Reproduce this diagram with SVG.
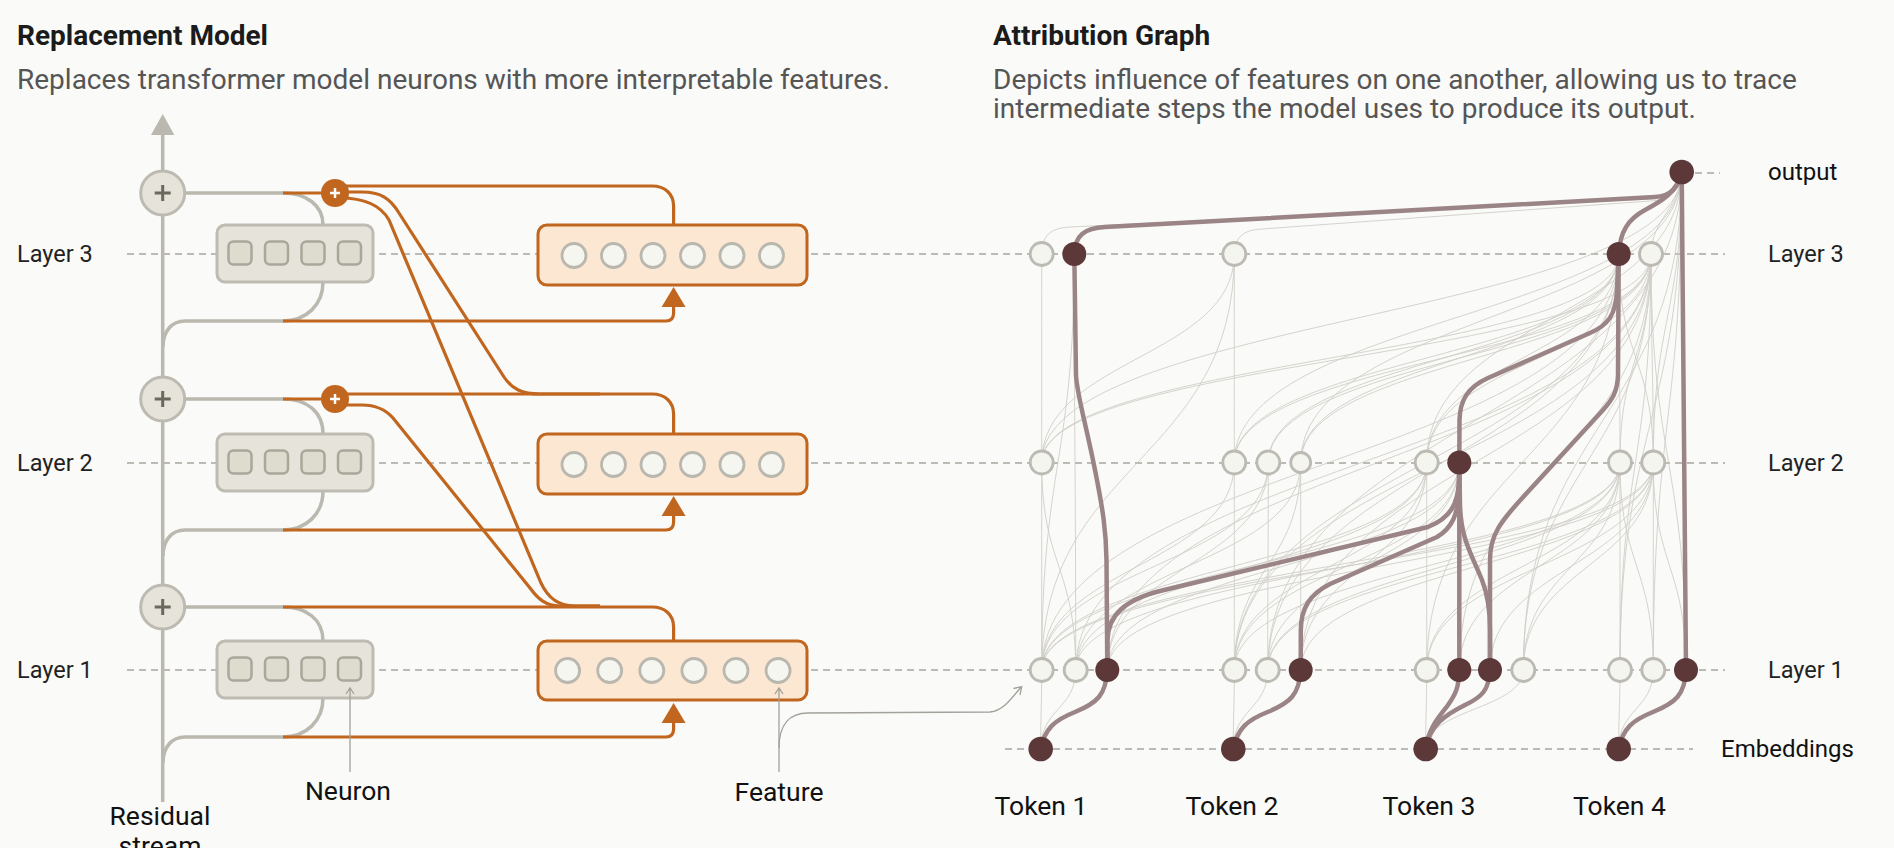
<svg xmlns="http://www.w3.org/2000/svg" width="1894" height="848" viewBox="0 0 1894 848">
<style>
text{font-family:Roboto,'Liberation Sans',Arial,sans-serif}
.title{font-size:28px;font-weight:700;fill:#1b1b1b}
.sub{font-size:28px;fill:#555}
.lbl{font-size:23.5px;fill:#222}
.blk{font-size:24px;fill:#111}
.big{font-size:26.5px;fill:#111}
.dash{stroke:#bcbab3;stroke-width:2;stroke-dasharray:7 5;fill:none}
.g{stroke:#bab8af;stroke-width:3.5;fill:none}
.o{stroke:#c0661f;stroke-width:3.2;fill:none}
.nbox{fill:#e6e4da;stroke:#bdbbb2;stroke-width:3}
.nsq{fill:#dedbcf;stroke:#a9a79a;stroke-width:2.5}
.fbox{fill:#fbe7d2;stroke:#c0661f;stroke-width:3}
.fc{fill:#f6f6f1;stroke:#b9b7ae;stroke-width:2.8}
.pc{fill:#e6e4da;stroke:#bcbab1;stroke-width:3}
.ps{stroke:#6b695c;stroke-width:3;fill:none}
.op{fill:#c0661f}
.ops{stroke:#fff;stroke-width:2.5;fill:none}
.thin{stroke:#c9c7c0;stroke-width:0.9;fill:none;opacity:.85}
.thick{stroke:#9b8485;stroke-width:4.5;fill:none;stroke-linecap:round;stroke-linejoin:round}
.gn{fill:#f5f5f0;stroke:#bcbab2;stroke-width:2.8}
.dn{fill:#5c3838}
.ptr{stroke:#a3a19a;stroke-width:1.3;fill:none}
</style>
<rect width="1894" height="848" fill="#fafaf8"/>

<g id="headings">
<text class="title" x="17" y="45">Replacement Model</text>
<text class="sub" x="17" y="89">Replaces transformer model neurons with more interpretable features.</text>
<text class="title" x="993" y="45">Attribution Graph</text>
<text class="sub" x="993" y="89">Depicts influence of features on one another, allowing us to trace</text>
<text class="sub" x="993" y="118">intermediate steps the model uses to produce its output.</text>
</g>

<g id="layer-lines">
<path class="dash" d="M127 254H1725M127 463H1725M127 670H1725M1005 749H1693M1695 173H1720"/>
</g>

<g id="connectors">
<!-- residual stream -->
<path class="g" d="M162.7 802V133" stroke-width="4"/>
<polygon points="151,135 174.4,135 162.7,114" fill="#bab8af"/>
<!-- gray branches -->
<path class="g" d="M185 193H283C306 193 323 205 323 225M323 282C323 305 306 321 283 321H185C172 321 163 331 163 347"/>
<path class="g" d="M185 399H283C306 399 323 411 323 434M323 491C323 514 306 530 283 530H185C172 530 163 540 163 556"/>
<path class="g" d="M185 607H283C306 607 323 619 323 641M323 698C323 721 306 737 283 737H185C172 737 163 747 163 763"/>
<!-- orange -->
<path class="o" d="M283 193H322M340 186H652C665 186 673.6 194 673.6 206V225"/>
<path class="o" d="M340 192H362C380 192 390 198 399 213L504 377C512 389 522 394 540 394H600"/>
<path class="o" d="M340 198C362 198 380 204 389 220L541 583C548 598 558 606 575 606H600"/>
<path class="o" d="M283 399H322M340 394H652C665 394 673.6 402 673.6 414V434"/>
<path class="o" d="M340 405H362C377 405 386 410 393 418L530 588C538 599 546 606 560 606H600"/>
<path class="o" d="M283 607H652C665 607 673.6 615 673.6 627V641"/>
<path class="o" d="M283 321H666C671 321 673.6 318 673.6 313V305"/>
<path class="o" d="M283 530H666C671 530 673.6 527 673.6 522V514"/>
<path class="o" d="M283 737H666C671 737 673.6 734 673.6 729V721"/>
<polygon points="661.6,307 685.6,307 673.6,287" fill="#c0661f"/>
<polygon points="661.6,516 685.6,516 673.6,496" fill="#c0661f"/>
<polygon points="661.6,723 685.6,723 673.6,703" fill="#c0661f"/>

<!-- thin attribution edges -->
<g class="thin">
<path d="M1041.7 670C1041.7 566 1041.7 566 1041.7 462.5"/>
<path d="M1234.3 670C1234.3 566 1234.3 566 1234.3 462.5"/>
<path d="M1267.7 670C1267.7 566 1268.3 566 1268.3 462.5"/>
<path d="M1426.7 670C1426.7 566 1426.7 566 1426.7 462.5"/>
<path d="M1620 670C1620 566 1620 566 1620 462.5"/>
<path d="M1653.3 670C1653.3 566 1653.3 566 1653.3 462.5"/>
<path d="M1300.7 670C1300.7 566 1300.7 566 1300.7 462.5"/>
<path d="M1041.7 670C1041.7 566 1234.3 566 1234.3 462.5"/>
<path d="M1041.7 670C1041.7 566 1426.7 566 1426.7 462.5"/>
<path d="M1041.7 670C1041.7 566 1459.3 566 1459.3 462.5"/>
<path d="M1041.7 670C1041.7 566 1620 566 1620 462.5"/>
<path d="M1041.7 670C1041.7 566 1653.3 566 1653.3 462.5"/>
<path d="M1075.7 670C1075.7 566 1300.7 566 1300.7 462.5"/>
<path d="M1075.7 670C1075.7 566 1426.7 566 1426.7 462.5"/>
<path d="M1075.7 670C1075.7 566 1620 566 1620 462.5"/>
<path d="M1075.7 670C1075.7 566 1041.7 566 1041.7 462.5"/>
<path d="M1107.3 670C1107.3 566 1268.3 566 1268.3 462.5"/>
<path d="M1107.3 670C1107.3 566 1459.3 566 1459.3 462.5"/>
<path d="M1107.3 670C1107.3 566 1653.3 566 1653.3 462.5"/>
<path d="M1234.3 670C1234.3 566 1426.7 566 1426.7 462.5"/>
<path d="M1234.3 670C1234.3 566 1459.3 566 1459.3 462.5"/>
<path d="M1234.3 670C1234.3 566 1620 566 1620 462.5"/>
<path d="M1267.7 670C1267.7 566 1459.3 566 1459.3 462.5"/>
<path d="M1267.7 670C1267.7 566 1620 566 1620 462.5"/>
<path d="M1267.7 670C1267.7 566 1653.3 566 1653.3 462.5"/>
<path d="M1300.7 670C1300.7 566 1426.7 566 1426.7 462.5"/>
<path d="M1300.7 670C1300.7 566 1653.3 566 1653.3 462.5"/>
<path d="M1426.7 670C1426.7 566 1620 566 1620 462.5"/>
<path d="M1426.7 670C1426.7 566 1653.3 566 1653.3 462.5"/>
<path d="M1459.3 670C1459.3 566 1620 566 1620 462.5"/>
<path d="M1490 670C1490 566 1653.3 566 1653.3 462.5"/>
<path d="M1523.3 670C1523.3 566 1653.3 566 1653.3 462.5"/>
<path d="M1523.3 670C1523.3 566 1620 566 1620 462.5"/>
<path d="M1653.3 670C1653.3 566 1620 566 1620 462.5"/>
<path d="M1686 670C1686 566 1653.3 566 1653.3 462.5"/>
<path d="M1041.7 670C1041.7 566 1268.3 566 1268.3 462.5"/>
<path d="M1234.3 670C1234.3 566 1300.7 566 1300.7 462.5"/>
<path d="M1041.7 462.5C1041.7 358 1041.7 358 1041.7 254"/>
<path d="M1234.3 462.5C1234.3 358 1234.3 358 1234.3 254"/>
<path d="M1620 462.5C1620 358 1618.7 358 1618.7 254"/>
<path d="M1653.3 462.5C1653.3 358 1651 358 1651 254"/>
<path d="M1041.7 462.5C1041.7 358 1234.3 358 1234.3 254"/>
<path d="M1041.7 462.5C1041.7 358 1618.7 358 1618.7 254"/>
<path d="M1041.7 462.5C1041.7 358 1651 358 1651 254"/>
<path d="M1234.3 462.5C1234.3 358 1618.7 358 1618.7 254"/>
<path d="M1268.3 462.5C1268.3 358 1651 358 1651 254"/>
<path d="M1300.7 462.5C1300.7 358 1618.7 358 1618.7 254"/>
<path d="M1426.7 462.5C1426.7 358 1618.7 358 1618.7 254"/>
<path d="M1426.7 462.5C1426.7 358 1651 358 1651 254"/>
<path d="M1268.3 462.5C1268.3 358 1618.7 358 1618.7 254"/>
<path d="M1620 462.5C1620 358 1651 358 1651 254"/>
<path d="M1653.3 462.5C1653.3 358 1618.7 358 1618.7 254"/>
<path d="M1234.3 462.5C1234.3 358 1651 358 1651 254"/>
<path d="M1300.7 462.5C1300.7 358 1651 358 1651 254"/>
<path d="M1041.7 670C1041.7 462 1074.3 462 1074.3 254"/>
<path d="M1075.7 670C1075.7 462 1074.3 462 1074.3 254"/>
<path d="M1041.7 670C1041.7 462 1234.3 462 1234.3 254"/>
<path d="M1041.7 670C1041.7 462 1618.7 462 1618.7 254"/>
<path d="M1234.3 670C1234.3 462 1618.7 462 1618.7 254"/>
<path d="M1234.3 670C1234.3 462 1651 462 1651 254"/>
<path d="M1107.3 670C1107.3 462 1651 462 1651 254"/>
<path d="M1300.7 670C1300.7 462 1651 462 1651 254"/>
<path d="M1426.7 670C1426.7 462 1618.7 462 1618.7 254"/>
<path d="M1523.3 670C1523.3 462 1651 462 1651 254"/>
<path d="M1267.7 670C1267.7 462 1618.7 462 1618.7 254"/>
<path d="M1620 670C1620 462 1651 462 1651 254"/>
<path d="M1686 670C1686 462 1651 462 1651 254"/>
<path d="M1075.7 670C1075.7 462 1651 462 1651 254"/>
<path d="M1459.3 670C1459.3 462 1651 462 1651 254"/>
<path d="M1040.7 749C1040.7 709 1041.7 709 1041.7 670"/>
<path d="M1040.7 749C1040.7 709 1075.7 709 1075.7 670"/>
<path d="M1233.3 749C1233.3 709 1234.3 709 1234.3 670"/>
<path d="M1233.3 749C1233.3 709 1267.7 709 1267.7 670"/>
<path d="M1425.7 749C1425.7 709 1426.7 709 1426.7 670"/>
<path d="M1425.7 749C1425.7 709 1523.3 709 1523.3 670"/>
<path d="M1618.7 749C1618.7 709 1620 709 1620 670"/>
<path d="M1618.7 749C1618.7 709 1653.3 709 1653.3 670"/>
<path d="M1041.7 462.5C1041.7 317 1681.7 317 1681.7 172"/>
<path d="M1234.3 462.5C1234.3 317 1681.7 317 1681.7 172"/>
<path d="M1426.7 462.5C1426.7 317 1681.7 317 1681.7 172"/>
<path d="M1653.3 462.5C1653.3 317 1681.7 317 1681.7 172"/>
<path d="M1300.7 462.5C1300.7 317 1681.7 317 1681.7 172"/>
<path d="M1523.3 670C1523.3 421 1681.7 421 1681.7 172"/>
<path d="M1653.3 670C1653.3 421 1681.7 421 1681.7 172"/>
<path d="M1620 670C1620 421 1681.7 421 1681.7 172"/>
<path d="M1267.7 670C1267.7 421 1681.7 421 1681.7 172"/>
<path d="M1041.7 254C1042 236 1050 228 1070 227L1650 199C1668 198 1678 190 1681.7 172"/>
<path d="M1234.3 254C1235 238 1242 230 1262 229L1650 201C1668 200 1678 192 1681.7 172"/>
<path d="M1651 254C1651 220 1681.7 206 1681.7 172"/>
</g>

<!-- strong attribution edges -->
<g class="thick">
<path d="M1074.3 254C1075 235 1085 228 1105 227L1655 197C1670 196 1679 188 1681.7 172"/>
<path d="M1681.7 172C1678 192 1660 202 1645 210C1628 219 1620 232 1618.7 254"/>
<path d="M1681.7 172L1686 670"/>
<path d="M1074.3 254L1076 375C1077 395 1085 420 1095 470C1103 510 1106 530 1106.5 560L1107.3 670"/>
<path d="M1618.7 254L1617 290C1616 315 1608 325 1590 333L1488 378C1468 387 1460 400 1459.5 420L1459.3 462.5"/>
<path d="M1618.7 254L1618 375C1617.5 392 1612 400 1603 410L1525 495C1500 522 1490 535 1490 560L1490 670"/>
<path d="M1459.3 462.5L1459 480C1458 505 1450 518 1428 527L1160 591C1125 600 1108 615 1107.5 640L1107.3 670"/>
<path d="M1459.3 462.5L1459 490C1458 515 1452 528 1437 537L1330 584C1310 594 1301 608 1300.8 630L1300.7 670"/>
<path d="M1459.3 462.5L1459.3 670"/>
<path d="M1459.3 462.5L1460 505C1461 540 1472 555 1482 580C1488 595 1490 610 1490 630L1490 670"/>
<path d="M1040.7 749C1045 728 1055 720 1075 712C1097 703 1106 695 1107.3 670"/>
<path d="M1233.3 749C1237.6 728 1247.6 720 1267.6 712C1289.6 703 1299.4 695 1300.7 670"/>
<path d="M1425.7 749C1428 728 1440 716 1448 705C1455 695 1459 688 1459.3 670"/>
<path d="M1425.7 749C1430 725 1445 715 1465 705C1482 697 1489 690 1490 670"/>
<path d="M1618.7 749C1623 728 1633 720 1653 712C1675 703 1685 695 1686 670"/>
</g>
</g>

<!-- left: replacement model nodes -->
<g id="residual-plus-3"><circle class="pc" cx="162.7" cy="193" r="22"/><path class="ps" d="M154.7 193H170.7M162.7 185V201"/></g>
<g id="residual-plus-2"><circle class="pc" cx="162.7" cy="399" r="22"/><path class="ps" d="M154.7 399H170.7M162.7 391V407"/></g>
<g id="residual-plus-1"><circle class="pc" cx="162.7" cy="607" r="22"/><path class="ps" d="M154.7 607H170.7M162.7 599V615"/></g>

<g id="feature-plus-3"><circle class="op" cx="335" cy="193" r="14"/><path class="ops" d="M330 193H340M335 188V198"/></g>
<g id="feature-plus-2"><circle class="op" cx="335" cy="399" r="14"/><path class="ops" d="M330 399H340M335 394V404"/></g>

<g id="neurons-3">
<rect class="nbox" x="217" y="225" width="156" height="57" rx="8"/>
<rect class="nsq" x="228.5" y="241.5" width="23" height="23" rx="5"/>
<rect class="nsq" x="265" y="241.5" width="23" height="23" rx="5"/>
<rect class="nsq" x="301.5" y="241.5" width="23" height="23" rx="5"/>
<rect class="nsq" x="338" y="241.5" width="23" height="23" rx="5"/>
</g>
<g id="neurons-2">
<rect class="nbox" x="217" y="434" width="156" height="57" rx="8"/>
<rect class="nsq" x="228.5" y="450.5" width="23" height="23" rx="5"/>
<rect class="nsq" x="265" y="450.5" width="23" height="23" rx="5"/>
<rect class="nsq" x="301.5" y="450.5" width="23" height="23" rx="5"/>
<rect class="nsq" x="338" y="450.5" width="23" height="23" rx="5"/>
</g>
<g id="neurons-1">
<rect class="nbox" x="217" y="641" width="156" height="57" rx="8"/>
<rect class="nsq" x="228.5" y="657.5" width="23" height="23" rx="5"/>
<rect class="nsq" x="265" y="657.5" width="23" height="23" rx="5"/>
<rect class="nsq" x="301.5" y="657.5" width="23" height="23" rx="5"/>
<rect class="nsq" x="338" y="657.5" width="23" height="23" rx="5"/>
</g>

<g id="features-3">
<rect class="fbox" x="538" y="225" width="269" height="60" rx="9"/>
<circle class="fc" cx="574" cy="255.5" r="12"/><circle class="fc" cx="613.5" cy="255.5" r="12"/><circle class="fc" cx="653" cy="255.5" r="12"/>
<circle class="fc" cx="692.5" cy="255.5" r="12"/><circle class="fc" cx="732" cy="255.5" r="12"/><circle class="fc" cx="771.5" cy="255.5" r="12"/>
</g>
<g id="features-2">
<rect class="fbox" x="538" y="434" width="269" height="60" rx="9"/>
<circle class="fc" cx="574" cy="464.5" r="12"/><circle class="fc" cx="613.5" cy="464.5" r="12"/><circle class="fc" cx="653" cy="464.5" r="12"/>
<circle class="fc" cx="692.5" cy="464.5" r="12"/><circle class="fc" cx="732" cy="464.5" r="12"/><circle class="fc" cx="771.5" cy="464.5" r="12"/>
</g>
<g id="features-1">
<rect class="fbox" x="538" y="641" width="269" height="59" rx="9"/>
<circle class="fc" cx="567.6" cy="670.5" r="12"/><circle class="fc" cx="609.7" cy="670.5" r="12"/><circle class="fc" cx="651.8" cy="670.5" r="12"/>
<circle class="fc" cx="693.9" cy="670.5" r="12"/><circle class="fc" cx="736" cy="670.5" r="12"/><circle class="fc" cx="778.1" cy="670.5" r="12"/>
</g>

<g id="pointers">
<path class="ptr" d="M350 772V689M346 694L350 688L354 694"/>
<path class="ptr" d="M779 772V689M775 694L779 688L783 694"/>
<path class="ptr" d="M779 748C779 724 790 713 808 713L990 712C1003 711 1012 698 1021 687M1013.5 688.5L1021.7 686.7L1020 695"/>
</g>

<g id="left-labels">
<text class="lbl" x="17" y="262">Layer 3</text>
<text class="lbl" x="17" y="471">Layer 2</text>
<text class="lbl" x="17" y="678">Layer 1</text>
<text class="big" x="160" y="825" text-anchor="middle">Residual</text>
<text class="big" x="160" y="855" text-anchor="middle">stream</text>
<text class="big" x="348" y="800" text-anchor="middle">Neuron</text>
<text class="big" x="779" y="801" text-anchor="middle">Feature</text>
</g>

<!-- right: attribution graph nodes -->
<g id="output-node"><circle class="dn" cx="1681.7" cy="172" r="12.3"/></g>
<g id="l3-nodes">
<circle class="gn" cx="1041.7" cy="254" r="11.5"/><circle class="dn" cx="1074.3" cy="254" r="12"/>
<circle class="gn" cx="1234.3" cy="254" r="11.5"/>
<circle class="dn" cx="1618.7" cy="254" r="12"/><circle class="gn" cx="1651" cy="254" r="11.5"/>
</g>
<g id="l2-nodes">
<circle class="gn" cx="1041.7" cy="462.5" r="11.5"/>
<circle class="gn" cx="1234.3" cy="462.5" r="11.5"/><circle class="gn" cx="1268.3" cy="462.5" r="11.5"/><circle class="gn" cx="1300.7" cy="462.5" r="10"/>
<circle class="gn" cx="1426.7" cy="462.5" r="11.5"/><circle class="dn" cx="1459.3" cy="462.5" r="12"/>
<circle class="gn" cx="1620" cy="462.5" r="11.5"/><circle class="gn" cx="1653.3" cy="462.5" r="11.5"/>
</g>
<g id="l1-nodes">
<circle class="gn" cx="1041.7" cy="670" r="11.5"/><circle class="gn" cx="1075.7" cy="670" r="11.5"/><circle class="dn" cx="1107.3" cy="670" r="12"/>
<circle class="gn" cx="1234.3" cy="670" r="11.5"/><circle class="gn" cx="1267.7" cy="670" r="11.5"/><circle class="dn" cx="1300.7" cy="670" r="12"/>
<circle class="gn" cx="1426.7" cy="670" r="11.5"/><circle class="dn" cx="1459.3" cy="670" r="12"/><circle class="dn" cx="1490" cy="670" r="12"/><circle class="gn" cx="1523.3" cy="670" r="11.5"/>
<circle class="gn" cx="1620" cy="670" r="11.5"/><circle class="gn" cx="1653.3" cy="670" r="11.5"/><circle class="dn" cx="1686" cy="670" r="12"/>
</g>
<g id="embedding-nodes">
<circle class="dn" cx="1040.7" cy="749" r="12.3"/><circle class="dn" cx="1233.3" cy="749" r="12.3"/>
<circle class="dn" cx="1425.7" cy="749" r="12.3"/><circle class="dn" cx="1618.7" cy="749" r="12.3"/>
</g>

<g id="right-labels">
<text class="blk" x="1768" y="180">output</text>
<text class="lbl" x="1768" y="262">Layer 3</text>
<text class="lbl" x="1768" y="471">Layer 2</text>
<text class="lbl" x="1768" y="678">Layer 1</text>
<text class="blk" x="1721" y="757">Embeddings</text>
<text class="big" x="1041" y="815" text-anchor="middle">Token 1</text>
<text class="big" x="1232" y="815" text-anchor="middle">Token 2</text>
<text class="big" x="1429" y="815" text-anchor="middle">Token 3</text>
<text class="big" x="1619.5" y="815" text-anchor="middle">Token 4</text>
</g>
</svg>
